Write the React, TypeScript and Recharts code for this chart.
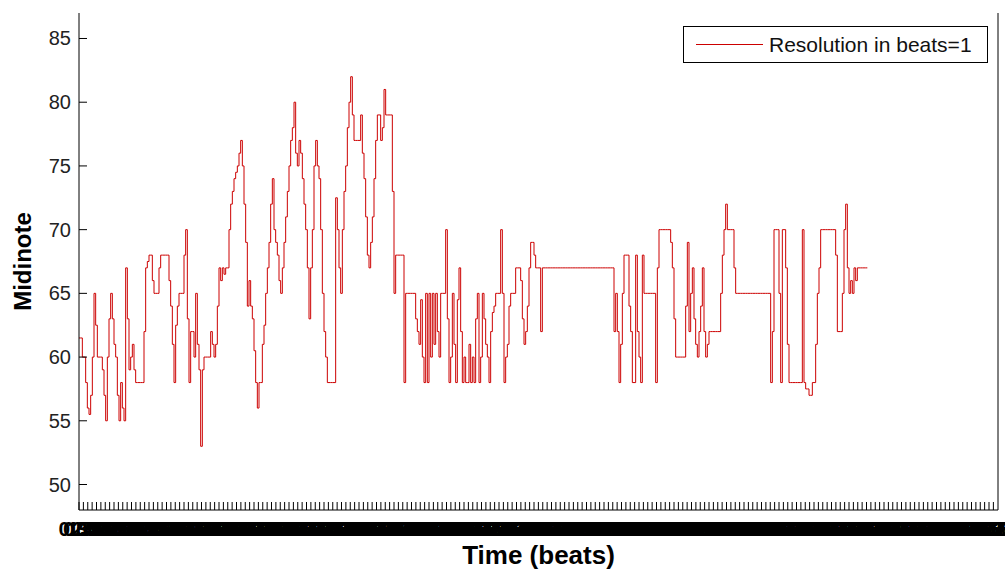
import { LineChart, Line, XAxis, YAxis, Legend } from 'recharts';

// midinote values, read left to right off the plot (one value every ~1.7px)
const seg1 = [
  61.5, 61.5, 60, 60, 58, 56, 55.5, 57, 60, 65, 62.5, 60, 60, 60, 59, 57, 55, 60, 63, 65,
  63, 61, 60, 57, 55, 58, 56, 55, 67, 63, 59, 60, 61, 59, 58, 58, 58, 58, 58, 62,
  67, 67.5, 68, 68, 66, 65, 65, 65, 67, 68, 68, 68, 68, 68, 66, 64, 61, 58, 62.5, 64,
  65, 65, 65, 68, 70, 63, 58, 62, 62, 60, 65, 61, 59, 53, 59, 60, 60, 60, 60, 62,
  61, 60, 61, 64, 67, 66, 67, 66.5, 67, 67, 70, 72, 73, 74, 74.5, 75, 76,
];
const seg2 = [
  77, 75, 72, 69, 64, 66, 64, 63, 60.5, 58, 56, 58, 58, 61, 62.5, 65, 67, 69, 72, 74,
  70, 69, 68, 66, 65, 67, 69, 71, 73, 75, 77, 78, 80, 76, 75, 77, 76, 74, 72, 70,
  67, 63, 67, 70, 75, 77, 75, 74, 70, 65, 62, 60, 58, 58, 58, 58, 58, 72.5, 70, 67,
  65, 70, 73, 75, 78, 80, 82, 79, 77, 77, 77, 77, 79, 76, 74, 71, 68, 67, 69, 71,
  74, 77, 79, 79, 77, 78, 81, 79, 79, 79, 79, 73, 65, 68, 68,
];
const seg3 = [
  68, 68, 68, 58, 65, 65, 65, 65, 65, 65, 63, 62, 61, 64.5, 60, 58, 65, 58, 65, 60,
  65, 61, 65, 62, 60, 65, 65, 65, 70, 63, 58, 60, 65, 61, 58, 64.5, 67, 62, 58, 60,
  58, 58, 61, 58, 60, 58, 63, 65, 58, 60, 65, 63, 61, 60, 58, 62, 63.5, 64, 65, 65,
  65, 70, 65, 58, 60, 61, 64, 65, 65, 65, 67, 67, 67, 66, 63, 61, 62, 64, 67, 69,
  69, 68, 67, 67, 67, 62, 67, 67, 67, 67, 67, 67, 67, 67, 67, 67,
];
const seg4 = [
  67, 67, 67, 67, 67, 67, 67, 67, 67, 67, 67, 67, 67, 67, 67, 67, 67, 67, 67, 67,
  67, 67, 67, 67, 67, 67, 67, 67, 67, 67, 67, 67, 67, 62, 65, 62, 58, 61, 65, 68,
  68, 68, 64, 62, 58, 58, 68, 62, 60, 58, 68, 65, 65, 65, 65, 65, 65, 65, 58, 67,
  70, 70, 70, 70, 70, 70, 70, 69, 67, 63, 60, 60, 60, 60, 60, 60, 64, 69, 62, 65,
  67, 63, 61, 60, 62, 64, 67, 62, 60, 61, 62, 62, 62, 62, 62, 62,
];
const seg5 = [
  62, 65, 68, 70, 72, 70, 70, 70, 70, 67, 65, 65, 65, 65, 65, 65, 65, 65, 65, 65,
  65, 65, 65, 65, 65, 65, 65, 65, 65, 65, 65, 58, 62, 70, 70, 70, 65, 58, 70, 70,
  67, 61, 58, 58, 58, 58, 58, 58, 58, 58, 70, 58, 57.5, 57.5, 57, 57, 58, 58, 61, 65,
  67, 70, 70, 70, 70, 70, 70, 70, 70, 70, 68, 62, 62, 62, 65, 70, 72, 67, 65, 66,
  65, 67, 66, 67, 67, 67, 67, 67, 67, 67,
];

const midinote = [...seg1, ...seg2, ...seg3, ...seg4, ...seg5];
const data = midinote.map((v, i) => ({ step: i, midinote: v }));

const xMax = 551.4;
const beatTicks = Array.from({ length: 210 }, (_, k) => k * 2.625);
const yTicks = [50, 55, 60, 65, 70, 75, 80, 85];

const FONT = '"Liberation Sans", Arial, Helvetica, sans-serif';
const RED = '#cc0000';

const BottomTick = (props: any) => {
  const { x, y, payload } = props;
  const beat = (payload.value / 2.625) * 0.75;
  return (
    <g>
      <line x1={x} x2={x} y1={y} y2={y - 8} stroke="#000" />
      <text x={x} y={y + 26} textAnchor="middle" fontSize={21} fontWeight="bold" fontFamily={FONT} fill="#000">
        {beat.toFixed(2)}
      </text>
    </g>
  );
};

const TopTick = (props: any) => {
  const { x, y } = props;
  return <line x1={x} x2={x} y1={y} y2={y + 7} stroke="#000" />;
};

const LeftTick = (props: any) => {
  const { x, y, payload } = props;
  return (
    <g>
      <line x1={x} x2={x + 8} y1={y} y2={y} stroke="#000" />
      <text x={x - 8} y={y + 7} textAnchor="end" fontSize={20} fontFamily={FONT} fill="#222">
        {payload.value}
      </text>
    </g>
  );
};

const RightTick = (props: any) => {
  const { x, y } = props;
  return <line x1={x - 8} x2={x} y1={y} y2={y} stroke="#000" />;
};

const LegendBox = () => (
  <div
    style={{
      width: 305,
      height: 37,
      boxSizing: 'border-box',
      border: '1px solid #000',
      background: '#fff',
      display: 'flex',
      alignItems: 'center',
      fontFamily: FONT,
      fontSize: 21,
      color: '#111',
    }}
  >
    <span style={{ display: 'inline-block', width: 67, borderTop: `1px solid ${RED}`, marginLeft: 12 }} />
    <span style={{ marginLeft: 6, whiteSpace: 'nowrap' }}>Resolution in beats=1</span>
  </div>
);

export default function App() {
  return (
    <div style={{ position: 'absolute', left: 0, top: 0, background: '#fff' }}>
      <LineChart width={1005} height={574} data={data} margin={{ top: 13, right: 0, bottom: 0, left: 0 }}>
        <XAxis
          xAxisId="bottom"
          dataKey="step"
          type="number"
          domain={[0, xMax]}
          ticks={beatTicks}
          interval={0}
          height={64}
          tickSize={0}
          tickMargin={0}
          tickLine={false}
          axisLine={{ stroke: '#000' }}
          tick={<BottomTick />}
          label={{
            content: (p: any) => {
              const vb = p.viewBox || { x: 79, y: 510, width: 919, height: 64 };
              return (
                <text x={vb.x + vb.width / 2} y={564} textAnchor="middle" fontSize={26} fontWeight="bold" fontFamily={FONT} fill="#000">
                  Time (beats)
                </text>
              );
            },
          }}
        />
        <XAxis
          xAxisId="top"
          dataKey="step"
          type="number"
          orientation="top"
          domain={[0, xMax]}
          ticks={beatTicks}
          interval={0}
          height={0}
          tickSize={0}
          tickMargin={0}
          tickLine={false}
          axisLine={{ stroke: '#000' }}
          tick={<TopTick />}
        />
        <YAxis
          yAxisId="left"
          width={79}
          domain={[48, 87]}
          ticks={yTicks}
          interval={0}
          tickSize={0}
          tickMargin={0}
          tickLine={false}
          axisLine={{ stroke: '#000' }}
          tick={<LeftTick />}
          label={{
            content: (p: any) => {
              const vb = p.viewBox || { x: 0, y: 13, width: 79, height: 497 };
              const cx = 31;
              const cy = vb.y + vb.height / 2;
              return (
                <text x={cx} y={cy} transform={`rotate(-90, ${cx}, ${cy})`} textAnchor="middle" fontSize={24} fontWeight="bold" fontFamily={FONT} fill="#000">
                  Midinote
                </text>
              );
            },
          }}
        />
        <YAxis
          yAxisId="right"
          orientation="right"
          width={7}
          domain={[48, 87]}
          ticks={yTicks}
          interval={0}
          tickSize={0}
          tickMargin={0}
          tickLine={false}
          axisLine={{ stroke: '#000' }}
          tick={<RightTick />}
        />
        <Legend
          layout="vertical"
          align="center"
          verticalAlign="middle"
          content={<LegendBox />}
          wrapperStyle={{ position: 'absolute', left: 683, top: 26, width: 305, height: 37 }}
        />
        <Line
          xAxisId="bottom"
          yAxisId="left"
          type="stepAfter"
          dataKey="midinote"
          name="Resolution in beats=1"
          stroke={RED}
          strokeWidth={1}
          dot={false}
          activeDot={false}
          isAnimationActive={false}
        />
      </LineChart>
    </div>
  );
}
